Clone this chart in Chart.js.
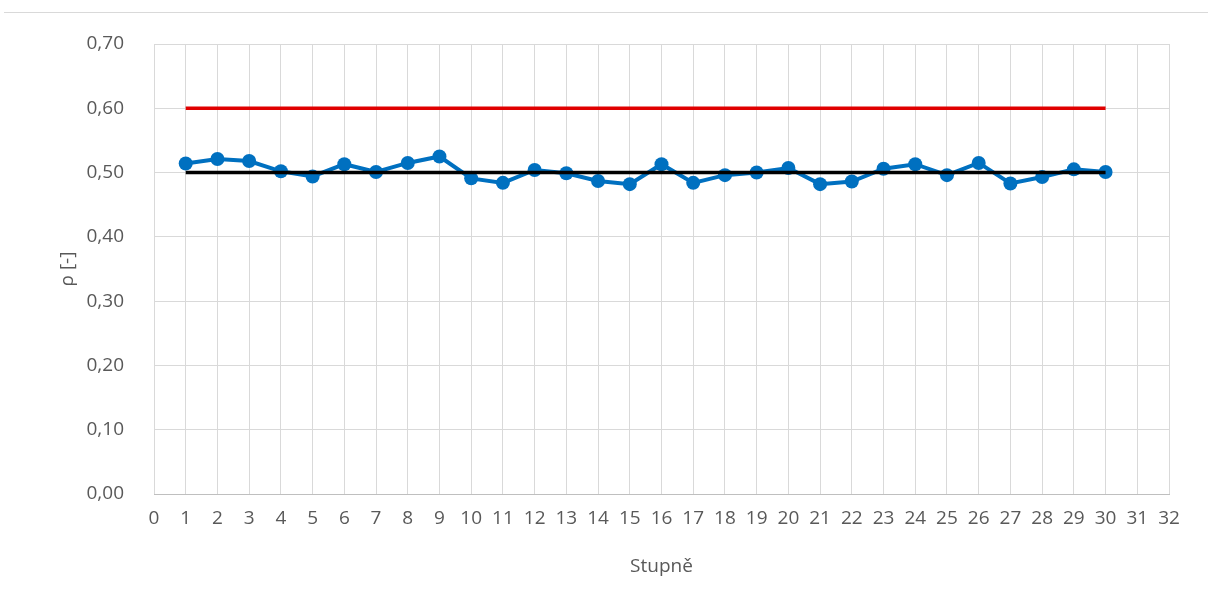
<!DOCTYPE html>
<html>
<head>
<meta charset="utf-8">
<script src="https://cdn.jsdelivr.net/npm/chart.js@4"></script>
<style>
  html, body { margin: 0; padding: 0; background: #fff; }
  #wrap { position: relative; width: 1208px; height: 610px; }
  #topline { position: absolute; left: 4px; right: 0; top: 12px; border-top: 1px solid #d9d9d9; }
</style>
</head>
<body>
<div id="wrap">
  <div id="topline"></div>
  <canvas id="rhoChart" width="1208" height="610"></canvas>
</div>
<script>
// Stupně (stages) and measured rho values
const stages = [1, 2, 3, 4, 5, 6, 7, 8, 9, 10, 11, 12, 13, 14, 15,
                16, 17, 18, 19, 20, 21, 22, 23, 24, 25, 26, 27, 28, 29, 30];
const rho = [0.514, 0.521, 0.518, 0.502, 0.494, 0.513, 0.501, 0.515, 0.525, 0.491,
             0.484, 0.504, 0.499, 0.487, 0.482, 0.513, 0.484, 0.496, 0.500, 0.507,
             0.482, 0.486, 0.506, 0.513, 0.496, 0.515, 0.483, 0.493, 0.505, 0.501];

// horizontal reference lines
const levelX = [1, 30];
const upperLevel = [0.60, 0.60];
const targetLevel = [0.50, 0.50];

const toPoints = (xs, ys) => xs.map((x, i) => ({ x: x, y: ys[i] }));

const tickFont = { family: 'Open Sans', size: 19 };
const gray = '#595959';

const ctx = document.getElementById('rhoChart').getContext('2d');
const rhoChart = new Chart(ctx, {
    type: 'line',
    data: {
        datasets: [
            {
                label: 'target',
                data: toPoints(levelX, targetLevel),
                borderColor: '#000000',
                borderWidth: 3.5,
                pointRadius: 0,
                order: 0
            },
            {
                label: 'rho',
                data: toPoints(stages, rho),
                borderColor: '#0070C0',
                backgroundColor: '#0070C0',
                borderWidth: 4,
                pointRadius: 7,
                pointBorderWidth: 0,
                order: 1
            },
            {
                label: 'upper',
                data: toPoints(levelX, upperLevel),
                borderColor: '#E00000',
                borderWidth: 3.5,
                pointRadius: 0,
                order: 2
            }
        ]
    },
    options: {
        responsive: false,
        animation: false,
        layout: { padding: { left: 52, right: 39, top: 44, bottom: 28 } },
        plugins: {
            legend: { display: false },
            tooltip: { enabled: false }
        },
        scales: {
            x: {
                type: 'linear',
                min: 0,
                max: 32,
                ticks: {
                    stepSize: 1,
                    autoSkip: false,
                    maxRotation: 0,
                    color: gray,
                    font: tickFont,
                    padding: 13
                },
                grid: { color: '#d9d9d9', drawTicks: false },
                border: { color: '#bfbfbf', width: 1 },
                title: {
                    display: true,
                    text: 'Stupně',
                    color: gray,
                    font: { family: 'Open Sans', size: 19 },
                    padding: { top: 4, bottom: 4 }
                },
                afterFit: scale => { scale.height = 88; }
            },
            y: {
                min: 0,
                max: 0.70,
                ticks: {
                    stepSize: 0.1,
                    color: gray,
                    font: tickFont,
                    padding: 30,
                    callback: v => v.toFixed(2).replace('.', ',')
                },
                grid: { color: '#d9d9d9', drawTicks: false },
                border: { display: false },
                title: {
                    display: true,
                    text: 'ρ [-]',
                    color: gray,
                    font: { family: 'Open Sans', size: 19 },
                    padding: { top: 4, bottom: 4 }
                },
                afterFit: scale => { scale.width = 102; }
            }
        }
    }
});
</script>
</body>
</html>
